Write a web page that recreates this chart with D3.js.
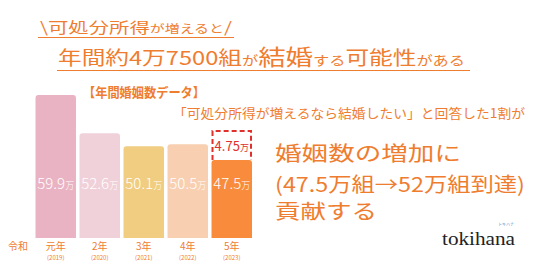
<!DOCTYPE html>
<html>
<head>
<meta charset="utf-8">
<script src="https://cdn.jsdelivr.net/npm/d3@7"></script>
<style>
  body { margin: 0; background: #fff; }
  svg { display: block; font-family: "Noto Sans CJK JP", "Noto Sans", sans-serif; }
</style>
</head>
<body>
<div id="chart"></div>
<script>
// data
var years = ["元年", "2年", "3年", "4年", "5年"];
var yearsWestern = ["(2019)", "(2020)", "(2021)", "(2022)", "(2023)"];
var marriages = [59.9, 52.6, 50.1, 50.5, 47.5];   // 万組
var increase = 4.75;                              // 万組 on top of last year
var barColors = ["#e9b3c3", "#f0d1da", "#f0cd80", "#f8cfb1", "#f88c3c"];

var W = 536, H = 268;
var orange = "#ef7d2f";

var svg = d3.select("#chart").append("svg")
    .attr("width", W).attr("height", H);

// scales
var x = d3.scaleBand()
    .domain(years)
    .range([35.5, 252])
    .paddingInner(0.08)
    .paddingOuter(0);
var y = d3.scaleLinear()
    .domain([32.6, 59.9])
    .range([238, 95]);

// headline
function fitText(sel, width) {
  sel.attr("textLength", width).attr("lengthAdjust", "spacingAndGlyphs");
}
var t1 = svg.append("text").attr("x", 40).attr("y", 33).attr("fill", orange);
t1.append("tspan").attr("font-size", 15).text("\\可処分所得");
t1.append("tspan").attr("font-size", 11).text("が増えると");
t1.append("tspan").attr("font-size", 15).text("/");
fitText(t1, 192);
svg.append("line").attr("x1", 38).attr("x2", 234).attr("y1", 37.5).attr("y2", 37.5)
  .attr("stroke", orange).attr("stroke-width", 1);

var t2 = svg.append("text").attr("x", 58).attr("y", 65).attr("fill", orange);
t2.append("tspan").attr("font-size", 19).text("年間約4万7500組");
t2.append("tspan").attr("font-size", 13).text("が");
t2.append("tspan").attr("font-size", 22).text("結婚");
t2.append("tspan").attr("font-size", 13).text("する");
t2.append("tspan").attr("font-size", 19).text("可能性");
t2.append("tspan").attr("font-size", 13).text("がある");
fitText(t2, 407);
svg.append("line").attr("x1", 57).attr("x2", 470).attr("y1", 70.5).attr("y2", 70.5)
  .attr("stroke", orange).attr("stroke-width", 1);

// chart title
svg.append("text").attr("x", 144).attr("y", 97)
  .attr("text-anchor", "middle").attr("font-size", 13).attr("font-weight", 700)
  .attr("fill", orange).text("【年間婚姻数データ】")
  .call(fitText, 122);

// bars with rounded top corners
function barPath(x0, y0, w, h, r) {
  return "M" + x0 + "," + (y0 + h) +
    "V" + (y0 + r) + "Q" + x0 + "," + y0 + " " + (x0 + r) + "," + y0 +
    "H" + (x0 + w - r) + "Q" + (x0 + w) + "," + y0 + " " + (x0 + w) + "," + (y0 + r) +
    "V" + (y0 + h) + "Z";
}
var bars = svg.append("g").selectAll("g")
  .data(years)
  .enter().append("g");
bars.append("path")
  .attr("d", function (d, i) {
    var top = y(marriages[i]);
    return barPath(x(d), top, x.bandwidth(), y.range()[0] - top, 3);
  })
  .attr("fill", function (d, i) { return barColors[i]; });

var lbl = bars.append("text")
  .attr("x", function (d) { return x(d) + x.bandwidth() / 2; })
  .attr("y", 189)
  .attr("text-anchor", "middle")
  .attr("fill", "#fff")
  .attr("font-weight", 300);
lbl.append("tspan").attr("font-size", 15).text(function (d, i) { return marriages[i].toFixed(1); });
lbl.append("tspan").attr("font-size", 9).text("万");

// dashed increase box on the last bar
var last = years[years.length - 1];
var lastTop = y(marriages[marriages.length - 1]);
var boxTop = y(marriages[marriages.length - 1] + increase) - 4;
svg.append("path")
  .attr("d", "M" + (x(last) + 1) + "," + lastTop + "V" + boxTop +
        "H" + (x(last) + x.bandwidth() - 1) + "V" + lastTop)
  .attr("fill", "none").attr("stroke", "#e0302c")
  .attr("stroke-width", 2).attr("stroke-dasharray", "5,3");
var inc = svg.append("text")
  .attr("x", x(last) + x.bandwidth() / 2).attr("y", (boxTop + lastTop) / 2 + 5)
  .attr("text-anchor", "middle").attr("fill", "#e0302c");
inc.append("tspan").attr("font-size", 13).text(increase);
inc.append("tspan").attr("font-size", 9).text("万");

// x axis labels
svg.append("text").attr("x", 18).attr("y", 250)
  .attr("text-anchor", "middle").attr("font-size", 10).attr("fill", orange).text("令和");
var xl = svg.append("g").selectAll("g").data(years).enter().append("g")
  .attr("transform", function (d) { return "translate(" + (x(d) + x.bandwidth() / 2) + ",0)"; });
xl.append("text").attr("y", 249.5).attr("text-anchor", "middle")
  .attr("font-size", 10).attr("fill", orange).text(function (d) { return d; });
xl.append("text").attr("y", 259.5).attr("text-anchor", "middle")
  .attr("font-size", 6).attr("fill", orange).text(function (d, i) { return yearsWestern[i]; });

// right-hand copy
svg.append("text").attr("x", 173).attr("y", 118)
  .attr("font-size", 13).attr("fill", orange)
  .text("「可処分所得が増えるなら結婚したい」と回答した1割が")
  .call(fitText, 352);

var big = ["婚姻数の増加に", "(47.5万組→52万組到達)", "貢献する"];
var bigW = [186, 250, 102];
var bigY = [161, 192, 219];
big.forEach(function (s, i) {
  svg.append("text").attr("x", 275).attr("y", bigY[i])
    .attr("font-size", 20).attr("fill", orange).text(s)
    .call(fitText, bigW[i]);
});

// logo
svg.append("text").attr("x", 442).attr("y", 245)
  .style("font-family", "'Liberation Serif', 'DejaVu Serif', serif")
  .attr("font-size", 19).attr("fill", "#222").text("tokihana")
  .call(fitText, 73);
svg.append("text").attr("x", 498).attr("y", 226)
  .attr("font-size", 4).attr("fill", "#5b8fc9").text("トキハナ");
</script>
</body>
</html>
